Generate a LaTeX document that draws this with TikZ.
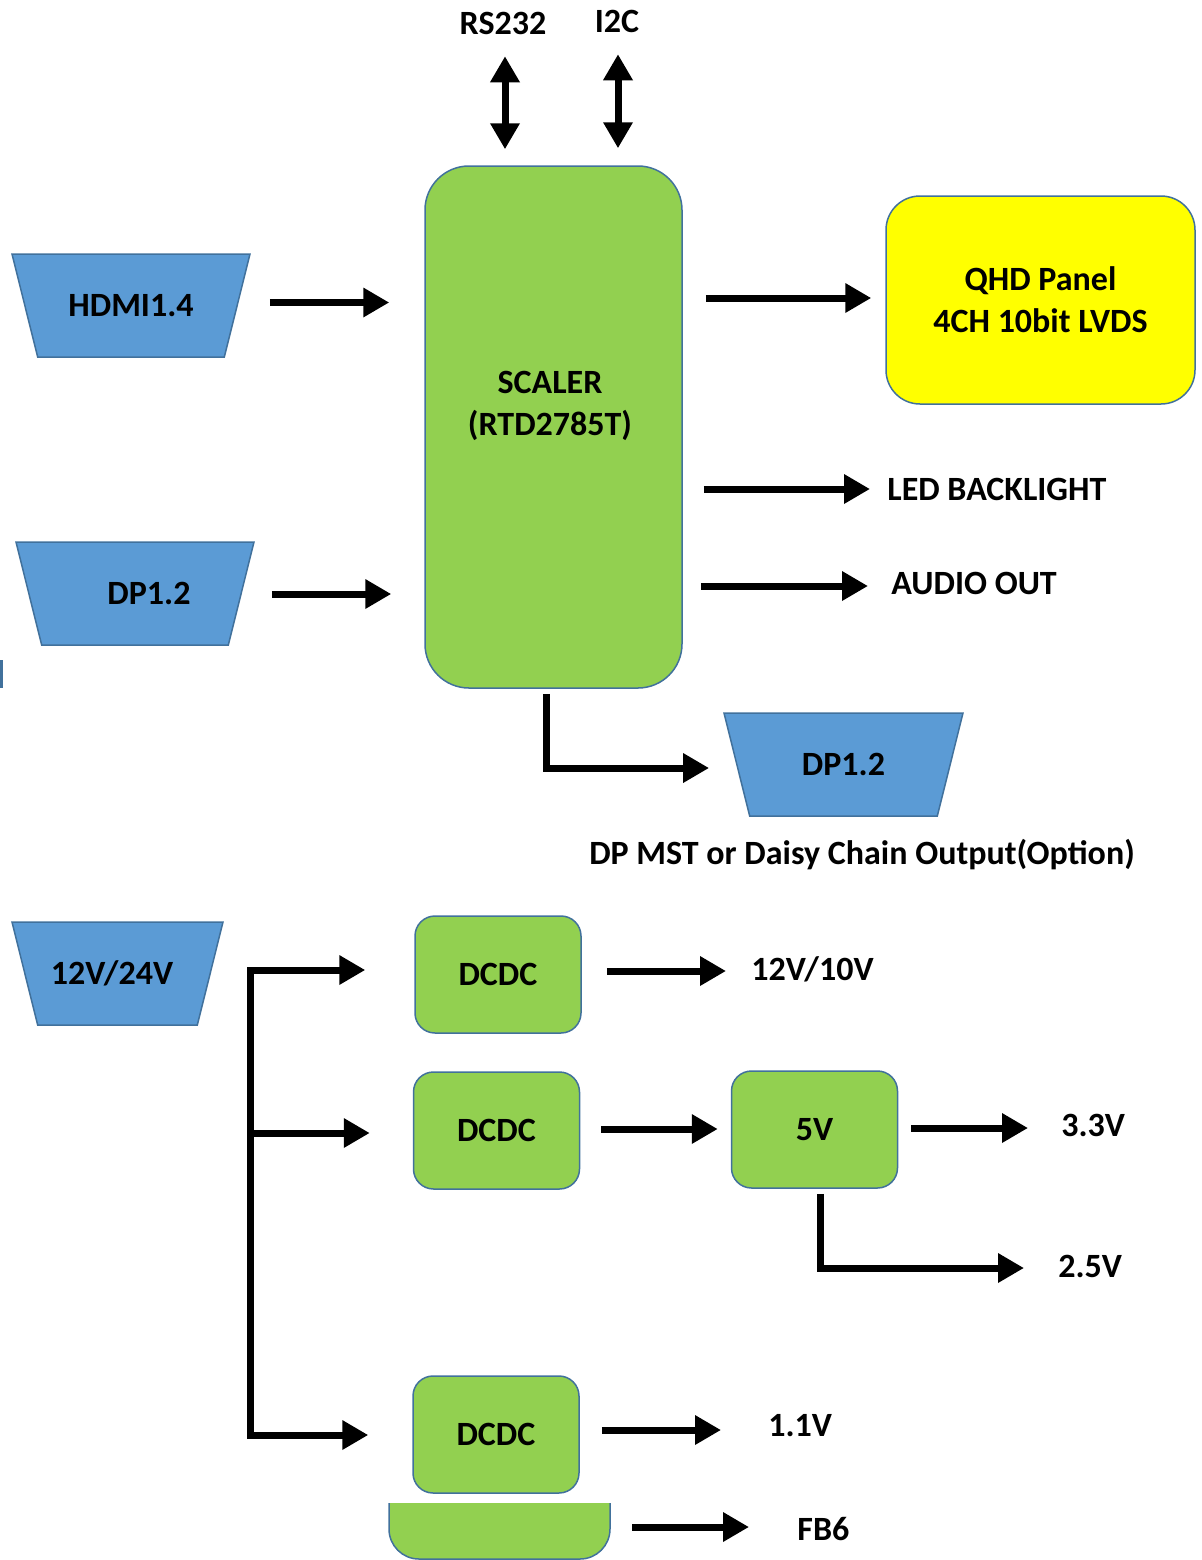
\documentclass[tikz,border=0pt]{standalone}
\usepackage{fontspec}
\setmainfont{Carlito}
\usetikzlibrary{arrows.meta,shapes.geometric,calc,positioning}

\definecolor{boxgreen}{HTML}{92D050}
\definecolor{portblue}{HTML}{5B9BD5}
\definecolor{panelyellow}{HTML}{FFFF00}
\definecolor{boxline}{HTML}{41719C}

\tikzset{
  lbl/.style={font=\fontsize{17}{21}\selectfont\bfseries},
  box/.style={lbl, draw=boxline, line width=0.75pt, fill=boxgreen,
    rounded corners=10pt, align=center, minimum width=83pt, minimum height=58.5pt},
  port/.style={lbl, trapezium, trapezium left angle=76, trapezium right angle=76,
    shape border rotate=180, trapezium stretches body=true, draw=boxline,
    line width=0.75pt, fill=portblue, inner xsep=0pt, inner ysep=0pt,
    text height=31.25pt, text depth=20.25pt},
  tag/.style={lbl, inner sep=0pt},
  arr/.style={line width=3.5pt, -{Triangle[length=13pt,width=14pt]}},
  darr/.style={line width=3.5pt, {Triangle[length=13pt,width=14pt]}-{Triangle[length=13pt,width=14pt]}},
}

\begin{document}
\begin{tikzpicture}[x=0.5pt,y=-0.5pt]
  \useasboundingbox (0,0) rectangle (1201,1560);

  % scaler and its inputs / outputs
  \node[box, rounded corners=22pt, minimum width=128.5pt, minimum height=261pt] (scaler) at (553.5,427) {};
  \node[tag, align=center] (scalertxt) at (550,406) {SCALER\\(RTD2785T)};
  \node[box, fill=panelyellow, rounded corners=17pt, minimum width=154.5pt, minimum height=104pt] (panel) at (1040.5,300) {QHD Panel\\4CH 10bit LVDS};

  \node[port, minimum width=119pt] (hdmi) at (131,305.5) {HDMI1.4};
  \node[port, minimum width=119pt] (dpin) at (135,593.5) {\hspace*{14pt}DP1.2};
  \node[port, minimum width=119.5pt] (dpout) at (843.5,764.5) {DP1.2};

  \node[tag] (rs) at (503,23) {RS232};
  \node[tag] (iic) at (617,21) {I2C};
  \node[tag, anchor=west] (led) at (887,489) {LED BACKLIGHT};
  \node[tag, anchor=west] (audio) at (891,583) {AUDIO OUT};
  \node[tag] (note) at (862,855) {DP MST or Daisy Chain Output(Option)};

  \draw[darr] ($(scaler.north -| rs)+(2,-16)$) -- ++(0,-93);
  \draw[darr] ($(scaler.north -| iic)+(1,-17)$) -- ++(0,-94);
  \draw[arr] ($(hdmi.east)+(32,-3)$) -- ($(scaler.west |- hdmi.east)+(-35,-3)$);
  \draw[arr] ($(dpin.east)+(30,0.5)$) -- ($(scaler.west |- dpin.east)+(-33,0.5)$);
  \draw[arr] ($(scaler.east |- panel.west)+(23,-2)$) -- ($(panel.west)+(-14,-2)$);
  \draw[arr] ($(scaler.east |- led.west)+(21,0)$) -- ($(led.west)+(-17,0)$);
  \draw[arr] ($(scaler.east |- audio.west)+(18,3)$) -- ($(audio.west)+(-23,3)$);
  \draw[arr] ($(scaler.south)+(-7.5,5)$) |- ($(dpout.west)+(-27,3.5)$);

  % power tree
  \node[port, minimum width=105.5pt] (vin) at (117.5,973.5) {\hspace*{-5.5pt}12V/24V};
  \node[box] (dcdcA) at (498,974.5) {DCDC};
  \node[box] (dcdcB) at (496.5,1130.5) {DCDC};
  \node[box] (five) at (814.5,1129.5) {5V};
  \node[box] (dcdcC) at (496,1434.5) {DCDC};

  \node[tag, anchor=west] (v12) at (751,969) {12V/10V};
  \node[tag, anchor=west] (v33) at (1061,1125) {3.3V};
  \node[tag, anchor=west] (v25) at (1058,1266) {2.5V};
  \node[tag, anchor=west] (v11) at (768,1426) {1.1V};
  \node[tag, anchor=west] (fb6) at (797,1529) {FB6};

  \coordinate (busT) at ($(vin.east)+(39.5,-3.5)$);
  \coordinate (busB) at ($(busT |- dcdcC.west)+(0,0.5)$);
  \draw[darr] ($(dcdcA.west |- busT)+(-49,0)$) -- (busT) -- (busB) -- ($(dcdcC.west)+(-44,0.5)$);
  \draw[arr] ($(busT |- dcdcB.west)+(0,2.5)$) -- ($(dcdcB.west)+(-43,2.5)$);

  \draw[arr] ($(dcdcA.east)+(25,-3.5)$) -- ($(v12.west)+(-25,2)$);
  \draw[arr] ($(dcdcB.east)+(21,-1.5)$) -- ($(five.west)+(-13,-0.5)$);
  \draw[arr] ($(five.east)+(13,-1.5)$) -- ($(v33.west)+(-33,3)$);
  \draw[arr] ($(five.south)+(5.5,5)$) |- ($(v25.west)+(-34,2)$);
  \draw[arr] ($(dcdcC.east)+(22,-4.5)$) -- ($(v11.west)+(-47,4)$);

  % cropped block at the bottom edge
  \draw[draw=boxline, fill=boxgreen, line width=0.75pt, rounded corners=15pt]
    (389,1503) -- (389,1559) -- (610,1559) -- (610,1503);
  \coordinate (fbsrc) at (610,1527);
  \draw[arr] ($(fbsrc)+(22,0)$) -- ($(fb6.west)+(-48,-2)$);

  % sliver at the left edge
  \fill[boxline] (0,660) rectangle (3,688);
\end{tikzpicture}
\end{document}
